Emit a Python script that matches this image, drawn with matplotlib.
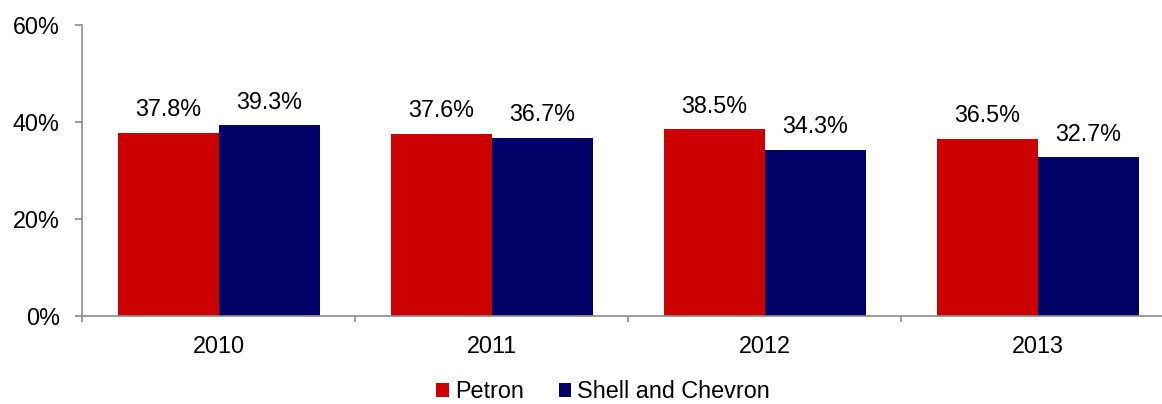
import numpy as np
import matplotlib.pyplot as plt
from matplotlib.patches import Patch

plt.rcParams['font.family'] = ['Liberation Sans', 'DejaVu Sans']

years = ['2010', '2011', '2012', '2013']
petron = [37.8, 37.6, 38.5, 36.5]
shell_chevron = [39.3, 36.7, 34.3, 32.7]
series_names = ['Petron', 'Shell and Chevron']
colors = ['#CC0000', '#000066']

fs = 16.8

fig = plt.figure(figsize=(11.62, 4.04), dpi=100)
ax = fig.add_axes([0.0706, 0.2178, 0.9398, 0.7203])

x = np.arange(len(years))
w = 0.37
b1 = ax.bar(x - w / 2, petron, w, color=colors[0])
b2 = ax.bar(x + w / 2, shell_chevron, w, color=colors[1])

for bars, vals in [(b1, petron), (b2, shell_chevron)]:
    for rect, v in zip(bars, vals):
        ax.annotate(f'{v:.1f}%', (rect.get_x() + rect.get_width() / 2, v),
                    xytext=(0, 12), textcoords='offset points',
                    ha='center', va='baseline', fontsize=fs, color='black')

ax.set_xlim(-0.5, 3.5)
ax.set_ylim(0, 60)
ax.set_yticks([0, 20, 40, 60])
ax.set_yticklabels(['0%', '20%', '40%', '60%'])
ax.set_xticks(x)
ax.set_xticklabels(years)
ax.set_xticks(np.arange(-0.5, 4.0, 1.0), minor=True)

for s in ['top', 'right']:
    ax.spines[s].set_visible(False)
for s in ['left', 'bottom']:
    ax.spines[s].set_color('#8c8c8c')
    ax.spines[s].set_linewidth(1.2)

ax.tick_params(axis='x', which='major', length=0, pad=13.5, labelsize=fs)
ax.tick_params(axis='x', which='minor', length=4, color='#8c8c8c', width=1.2)
ax.tick_params(axis='y', length=5, color='#8c8c8c', width=1.2, pad=11, labelsize=fs)

handles = [Patch(facecolor=c, edgecolor='none') for c in colors]
fig.legend(handles, series_names, loc='center', bbox_to_anchor=(603 / 1162, 1 - 392 / 404),
           ncol=2, frameon=False, fontsize=fs, handlelength=0.55, handleheight=0.55,
           handletextpad=0.25, columnspacing=1.5, borderpad=0)

fig.savefig('out.png', dpi=100)
